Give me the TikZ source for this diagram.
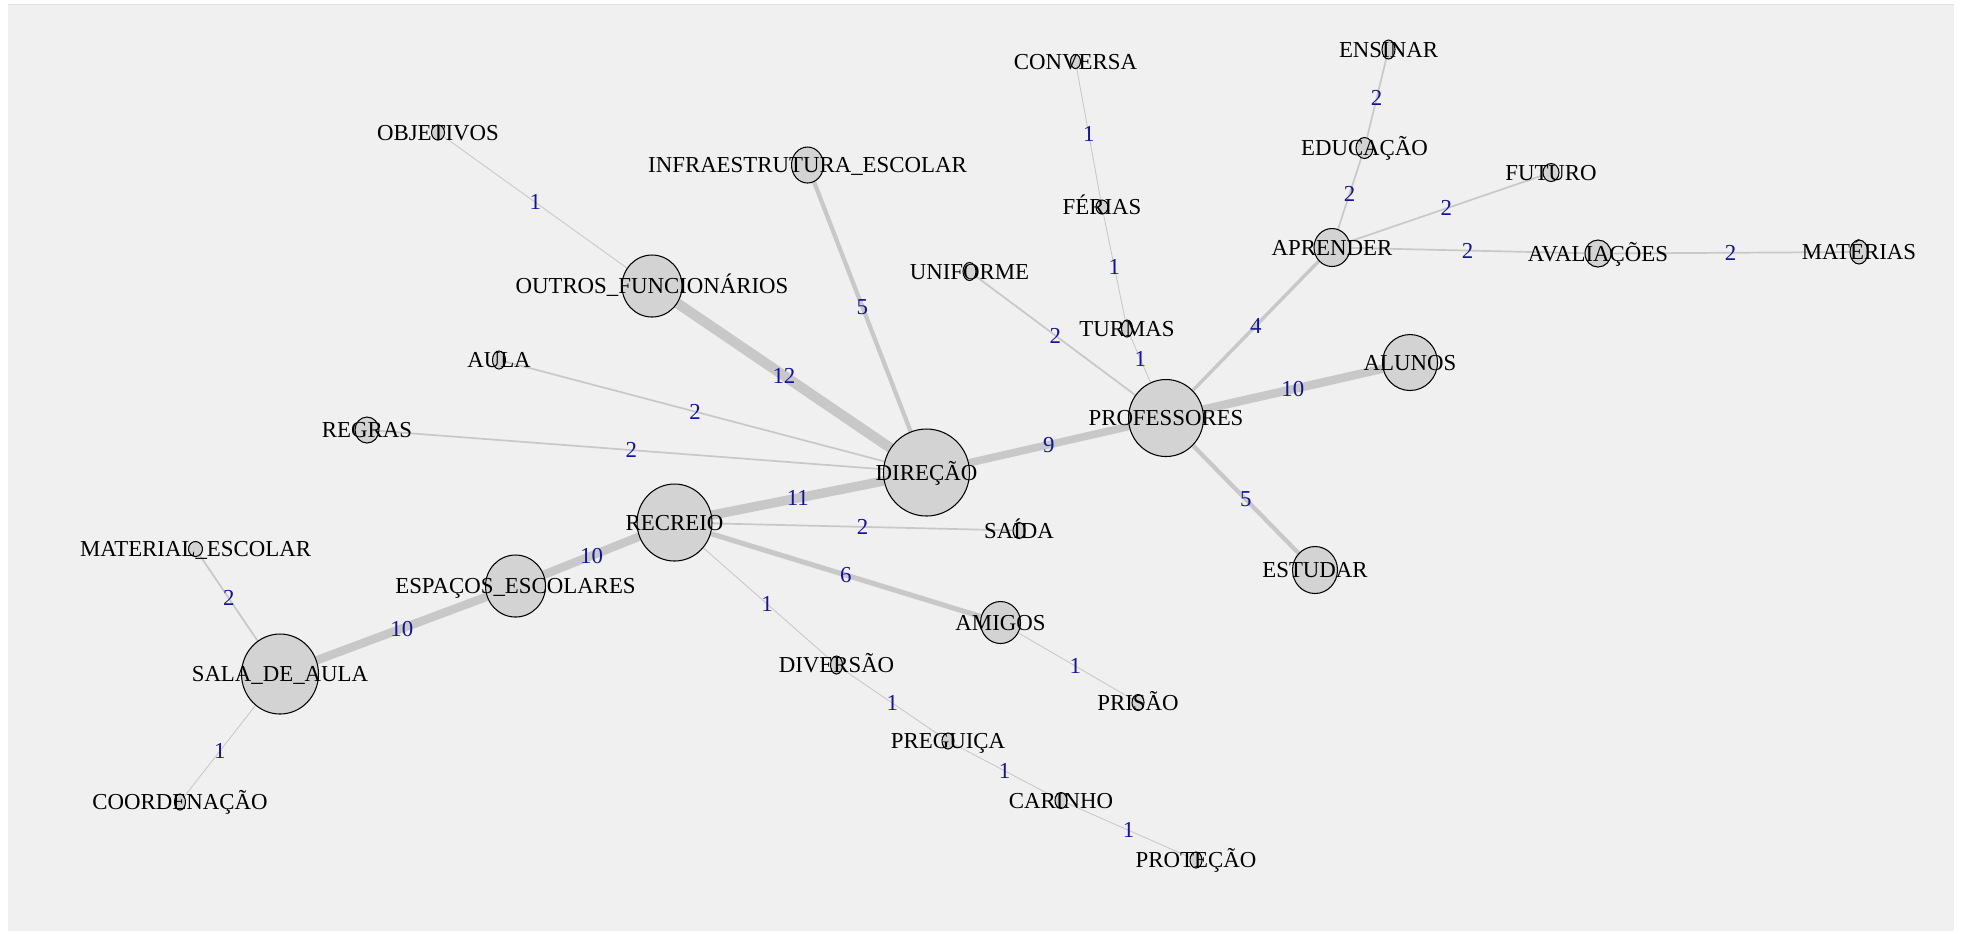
\documentclass[tikz,border=0pt]{standalone}
\usepackage{fontspec}
\setmainfont{Liberation Serif}
\usetikzlibrary{shapes.geometric}
\pgfdeclarelayer{background}
\pgfdeclarelayer{edges}
\pgfsetlayers{background,edges,main}

\definecolor{panelgray}{RGB}{240,240,240}
\definecolor{paneltop}{RGB}{226,226,226}
\definecolor{edgegray}{RGB}{200,200,200}
\definecolor{vertexfill}{RGB}{211,211,211}
\definecolor{weightblue}{RGB}{20,20,150}

\begin{document}
\begin{tikzpicture}[x=0.1mm,y=-0.1mm,
  vertex/.style 2 args={ellipse, draw=black, line width=0.3pt, fill=vertexfill,
    inner sep=0pt, minimum width=#1*0.2mm, minimum height=#2*0.2mm},
  vlabel/.style={anchor=base, yshift=-0.75mm, inner sep=0pt,
    font=\fontsize{6.5}{7}\selectfont, text=black},
  wlabel/.style={anchor=base, yshift=-0.75mm, inner sep=0pt,
    font=\fontsize{6.5}{7}\selectfont, text=weightblue},
  link/.style={draw=edgegray, line width=#1*0.085mm, line cap=butt},
]
\useasboundingbox (0,0) rectangle (1961,933);

% panel behind the graph
\begin{pgfonlayer}{background}
  \fill[white] (0,0) rectangle (1961,933);
  \fill[panelgray] (8,4) rectangle (1954,931);
  \draw[paneltop, line width=0.1mm] (8,4.5) -- (1954,4.5);
\end{pgfonlayer}

% vertices: name, position, x radius, y radius (in px)
\foreach \n/\x/\y/\rx/\ry in {
  obj/438/132.5/6.5/7.5,
  infra/807.5/165/16/18,
  outros/652/286/30/31,
  aula/499/360/6.5/9,
  regras/367/430/12/13,
  dir/926.5/472.5/43/43.5,
  recreio/674.5/522.5/37.5/38.5,
  espacos/515.5/586/30/31,
  material/195.5/549/7/7.5,
  sala/280/674/38.5/40,
  coord/180/802/5.5/8,
  saida/1019/530.5/6/8,
  amigos/1000.5/622.5/20/21,
  prisao/1138/702.5/6/8,
  diversao/836.5/665/6/9,
  preguica/948/741/6/8,
  carinho/1061/800.5/6/8,
  protecao/1196/860/6/8,
  prof/1166/418/37.5/38.5,
  alunos/1410/362.5/27.5/28,
  estudar/1315/570/22.5/23.5,
  uniforme/969.5/271.5/6.5/9,
  turmas/1127/328.5/5.5/8.5,
  ferias/1102/207/6/7,
  conversa/1075.5/61.5/5/7,
  aprender/1332/247.5/18/19,
  educacao/1364.5/148/8.5/10.5,
  ensinar/1388.5/49.5/6.5/9.5,
  futuro/1551/172.5/8/9,
  avaliacoes/1598/253.5/13/13.5,
  materias/1859/252/9/12}
  \node[vertex={\rx}{\ry}] (\n) at (\x,\y) {};

% weighted connectors
\begin{pgfonlayer}{edges}
\foreach \a/\b/\w in {
  obj/outros/1, outros/dir/12, infra/dir/5, aula/dir/2, regras/dir/2,
  dir/prof/9, recreio/dir/11, espacos/recreio/10, sala/espacos/10,
  material/sala/2, sala/coord/1, recreio/saida/2, recreio/amigos/6,
  recreio/diversao/1, amigos/prisao/1, diversao/preguica/1,
  preguica/carinho/1, carinho/protecao/1, prof/alunos/10, prof/estudar/5,
  prof/uniforme/2, prof/turmas/1, turmas/ferias/1, ferias/conversa/1,
  prof/aprender/4, aprender/educacao/2, educacao/ensinar/2,
  aprender/futuro/2, aprender/avaliacoes/2, avaliacoes/materias/2}
  \draw[link=\w] (\a) -- node[wlabel] (w-\a-\b) {\w} (\b);
\end{pgfonlayer}

% vertex labels, centred on the vertices
\node[vlabel] (l-obj) at (obj) {OBJETIVOS};
\node[vlabel] (l-infra) at (infra) {INFRAESTRUTURA\_ESCOLAR};
\node[vlabel] (l-outros) at (outros) {OUTROS\_FUNCIONÁRIOS};
\node[vlabel] (l-aula) at (aula) {AULA};
\node[vlabel] (l-regras) at (regras) {REGRAS};
\node[vlabel] (l-dir) at (dir) {DIREÇÃO};
\node[vlabel] (l-recreio) at (recreio) {RECREIO};
\node[vlabel] (l-espacos) at (espacos) {ESPAÇOS\_ESCOLARES};
\node[vlabel] (l-material) at (material) {MATERIAL\_ESCOLAR};
\node[vlabel] (l-sala) at (sala) {SALA\_DE\_AULA};
\node[vlabel] (l-coord) at (coord) {COORDENAÇÃO};
\node[vlabel] (l-saida) at (saida) {SAÍDA};
\node[vlabel] (l-amigos) at (amigos) {AMIGOS};
\node[vlabel] (l-prisao) at (prisao) {PRISÃO};
\node[vlabel] (l-diversao) at (diversao) {DIVERSÃO};
\node[vlabel] (l-preguica) at (preguica) {PREGUIÇA};
\node[vlabel] (l-carinho) at (carinho) {CARINHO};
\node[vlabel] (l-protecao) at (protecao) {PROTEÇÃO};
\node[vlabel] (l-prof) at (prof) {PROFESSORES};
\node[vlabel] (l-alunos) at (alunos) {ALUNOS};
\node[vlabel] (l-estudar) at (estudar) {ESTUDAR};
\node[vlabel] (l-uniforme) at (uniforme) {UNIFORME};
\node[vlabel] (l-turmas) at (turmas) {TURMAS};
\node[vlabel] (l-ferias) at (ferias) {FÉRIAS};
\node[vlabel] (l-conversa) at (conversa) {CONVERSA};
\node[vlabel] (l-aprender) at (aprender) {APRENDER};
\node[vlabel] (l-educacao) at (educacao) {EDUCAÇÃO};
\node[vlabel] (l-ensinar) at (ensinar) {ENSINAR};
\node[vlabel] (l-futuro) at (futuro) {FUTURO};
\node[vlabel] (l-avaliacoes) at (avaliacoes) {AVALIAÇÕES};
\node[vlabel] (l-materias) at (materias) {MATÉRIAS};
\end{tikzpicture}
\end{document}
